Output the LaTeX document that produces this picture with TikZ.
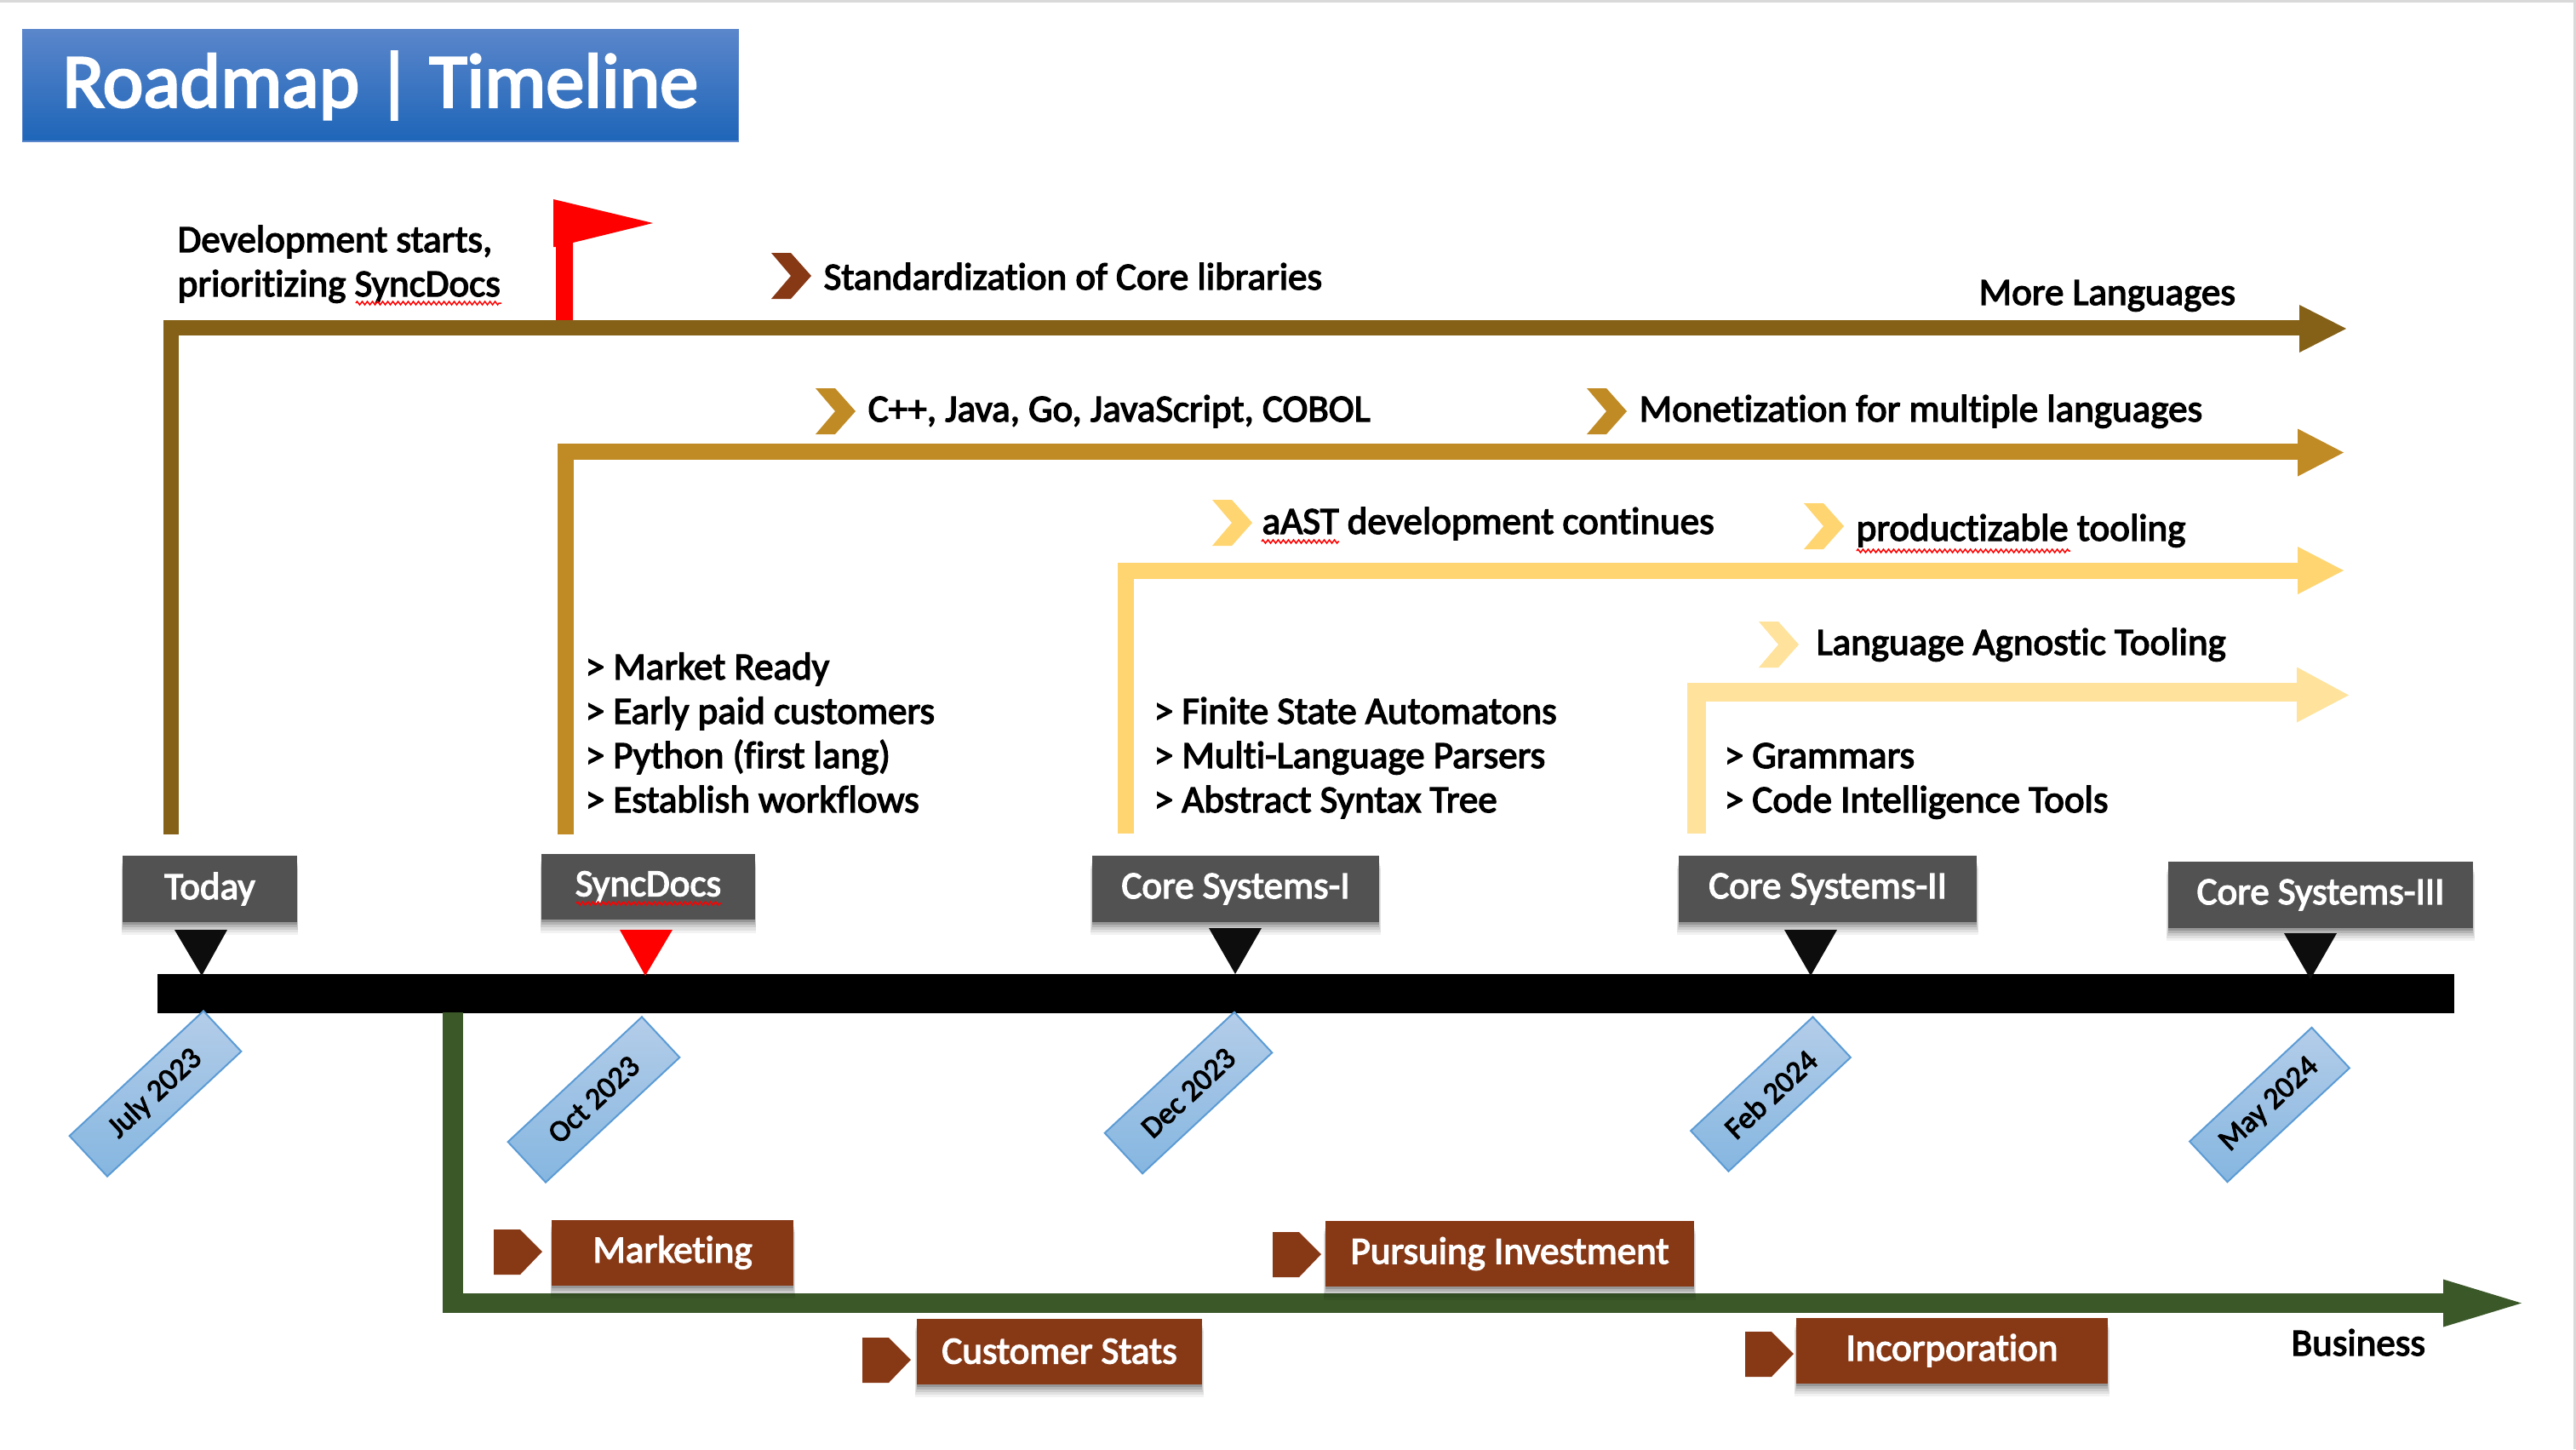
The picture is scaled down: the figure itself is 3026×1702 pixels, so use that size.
\documentclass[tikz,border=0pt]{standalone}
\usepackage{fontspec}
\setmainfont{Carlito}[FakeBold=3,Ligatures=NoCommon]
\usetikzlibrary{shadows,decorations.pathmorphing}
\definecolor{laneAcol}{HTML}{846116}
\definecolor{laneBcol}{HTML}{C08B25}
\definecolor{laneCcol}{HTML}{FFD571}
\definecolor{laneDcol}{HTML}{FFE29B}
\definecolor{laneEcol}{HTML}{3B5829}
\definecolor{tagcol}{HTML}{873815}
\definecolor{slatecol}{HTML}{525252}
\definecolor{markcol}{HTML}{0D0D0D}
\definecolor{edgecol}{HTML}{D9D9D9}
\definecolor{titletop}{HTML}{5A86CB}
\definecolor{titlebot}{HTML}{1E65B8}
\definecolor{monthtop}{HTML}{B4CDE9}
\definecolor{monthbot}{HTML}{85B6E0}
\definecolor{monthline}{HTML}{5B9BD5}
\newcommand{\chevron}[3]{\fill [#3] (#1,#2) -- ++(23,0) -- ++(24,27) -- ++(-24,27) -- ++(-23,0) -- ++(23,-27) -- cycle;}
\newcommand{\tagmark}[2]{\fill [tagcol] (#1,#2) -- ++(31,0) -- ++(26,26) -- ++(-26,27) -- ++(-31,0) -- cycle;}
\newcommand{\marker}[4]{\fill [#4] (#1,#2) -- ++(62,0) -- (#3,#2+54) -- cycle;}

\begin{document}
\begin{tikzpicture}[x=0.01cm,y=-0.01cm]
\tikzstyle{every node}+=[inner sep=0pt]
\tikzstyle{softshadow}=[
  general shadow={fill=black,opacity=0.05,shadow xshift=0pt,shadow yshift=-0.15cm,shadow scale=1.01},
  general shadow={fill=black,opacity=0.07,shadow xshift=0pt,shadow yshift=-0.12cm,shadow scale=1.01},
  general shadow={fill=black,opacity=0.09,shadow xshift=0pt,shadow yshift=-0.09cm,shadow scale=1.005},
  general shadow={fill=black,opacity=0.12,shadow xshift=0pt,shadow yshift=-0.06cm},
  general shadow={fill=black,opacity=0.16,shadow xshift=0pt,shadow yshift=-0.03cm}]
\tikzstyle{label}=[anchor=base west,font=\fontsize{12.8}{14.8}\selectfont,align=left]
\tikzstyle{slate}=[fill=slatecol,text=white,font=\fontsize{12.8}{14.8}\selectfont,softshadow,minimum height=0.77cm]
\tikzstyle{tag}=[fill=tagcol,text=white,font=\fontsize{12.8}{14.8}\selectfont,softshadow,minimum height=0.77cm]
\tikzstyle{month}=[draw=monthline,line width=0.02cm,top color=monthtop,bottom color=monthbot,rotate=43,minimum height=0.65cm,font=\fontsize{10.2}{12}\selectfont]
\tikzstyle{squiggle}=[red,line width=0.015cm,decorate,decoration={zigzag,segment length=0.06cm,amplitude=0.02cm}]
\useasboundingbox (0,0) rectangle (3026,1702);

\fill [edgecol] (0,0) rectangle (3026,3);
\fill [edgecol] (3023,0) rectangle (3026,1702);

\node (title) [shade,top color=titletop,bottom color=titlebot,draw=titletop,minimum width=8.4cm,minimum height=1.31cm,text=white,font=\fontsize{25.7}{30}\selectfont] at (447,100.5) {Roadmap | Timeline};

\fill [red] (650,234) -- (767,262) -- (673,285) -- (673,376) -- (653,376) -- (653,290) -- (650,290) -- cycle;

\coordinate (laneAstart) at (201,980);
\coordinate (laneAend) at (2701,385);
\draw [laneAcol,line width=0.18cm] (laneAstart) |- (laneAend);
\fill [laneAcol] (laneAend) ++(0,-27) -- ++(55,28) -- ++(-55,28) -- cycle;

\coordinate (laneBstart) at (664,980);
\coordinate (laneBend) at (2699,530.5);
\draw [laneBcol,line width=0.19cm] (laneBstart) |- (laneBend);
\fill [laneBcol] (laneBend) ++(0,-27) -- ++(54,28) -- ++(-54,28) -- cycle;

\coordinate (laneCstart) at (1322.5,979);
\coordinate (laneCend) at (2699,670);
\draw [laneCcol,line width=0.19cm] (laneCstart) |- (laneCend);
\fill [laneCcol] (laneCend) ++(0,-28) -- ++(54,28) -- ++(-54,28) -- cycle;

\coordinate (laneDstart) at (1992.5,979);
\coordinate (laneDend) at (2698,812.5);
\draw [laneDcol,line width=0.22cm] (laneDstart) |- (laneDend);
\fill [laneDcol] (laneDend) ++(0,-29) -- ++(61,33) -- ++(-61,32) -- cycle;

\fill [black] (185,1144) rectangle (2883,1190);

\coordinate (laneEstart) at (532,1189);
\coordinate (laneEend) at (2870,1530.5);
\draw [laneEcol,line width=0.235cm] (laneEstart) |- (laneEend);
\fill [laneEcol] (laneEend) ++(0,-28) -- ++(92,28) -- ++(-92,28) -- cycle;

\node (devstart) [label] at (208,348) {Development starts,\\prioritizing SyncDocs};
\node (stdcore) [label] at (967,340) {Standardization of Core libraries};
\node (morelang) [label] at (2324,358) {More Languages};
\node (cpp) [label] at (1019,495) {C++, Java, Go, JavaScript, COBOL};
\node (money) [label] at (1925,495) {Monetization for multiple languages};
\node (aast) [label] at (1482,627) {aAST development continues};
\node (product) [label] at (2180,635) {productizable tooling};
\node (agnostic) [label] at (2133,769) {Language Agnostic Tooling};
\node (syncitems) [label] at (687,954) {> Market Ready\\> Early paid customers\\> Python (first lang)\\> Establish workflows};
\node (coreitems) [label] at (1355,954) {> Finite State Automatons\\> Multi-Language Parsers\\> Abstract Syntax Tree};
\node (gramitems) [label] at (2025,954) {> Grammars\\> Code Intelligence Tools};
\node (business) [label] at (2691,1592) {Business};

\chevron{906}{297}{tagcol}
\chevron{958}{456}{laneBcol}
\chevron{1864}{456}{laneBcol}
\chevron{1424}{587}{laneCcol}
\chevron{2119}{591}{laneCcol}
\chevron{2066}{730}{laneDcol}

\node (today) [slate,minimum width=2.05cm] at (246.5,1044) {Today};
\node (syncdocs) [slate,minimum width=2.51cm] at (761.5,1041.5) {SyncDocs};
\node (coreone) [slate,minimum width=3.37cm] at (1451.5,1044) {Core Systems-I};
\node (coretwo) [slate,minimum width=3.5cm] at (2147,1044) {Core Systems-II};
\node (corethree) [slate,minimum width=3.58cm] at (2726,1051) {Core Systems-III};

\marker{205}{1092}{237}{markcol}
\marker{728}{1092}{758}{red}
\marker{1420}{1090}{1451}{markcol}
\marker{2096}{1092}{2127}{markcol}
\marker{2683}{1096}{2714}{markcol}

\node (july) [month,minimum width=2.15cm] at (182.5,1284.5) {July 2023};
\node (oct) [month,minimum width=2.15cm] at (697.5,1291.5) {Oct 2023};
\node (dec) [month,minimum width=2.08cm] at (1396,1283.5) {Dec 2023};
\node (feb) [month,minimum width=1.96cm] at (2080,1285) {Feb 2024};
\node (may) [month,minimum width=1.96cm] at (2666,1297.5) {May 2024};

\tagmark{580}{1444}
\tagmark{1495}{1447}
\tagmark{1013}{1571}
\tagmark{2050}{1564}

\node (marketing) [tag,minimum width=2.84cm] at (790,1471) {Marketing};
\node (invest) [tag,minimum width=4.33cm] at (1773.5,1472.5) {Pursuing Investment};
\node (stats) [tag,minimum width=3.35cm] at (1244.5,1587) {Customer Stats};
\node (incorp) [tag,minimum width=3.66cm] at (2293,1586) {Incorporation};

\draw [squiggle] (418,356) -- (589,356);
\draw [squiggle] (677,1061) -- (848,1061);
\draw [squiggle] (1482,636) -- (1573,636);
\draw [squiggle] (2181,647) -- (2432,647);
\end{tikzpicture}
\end{document}
